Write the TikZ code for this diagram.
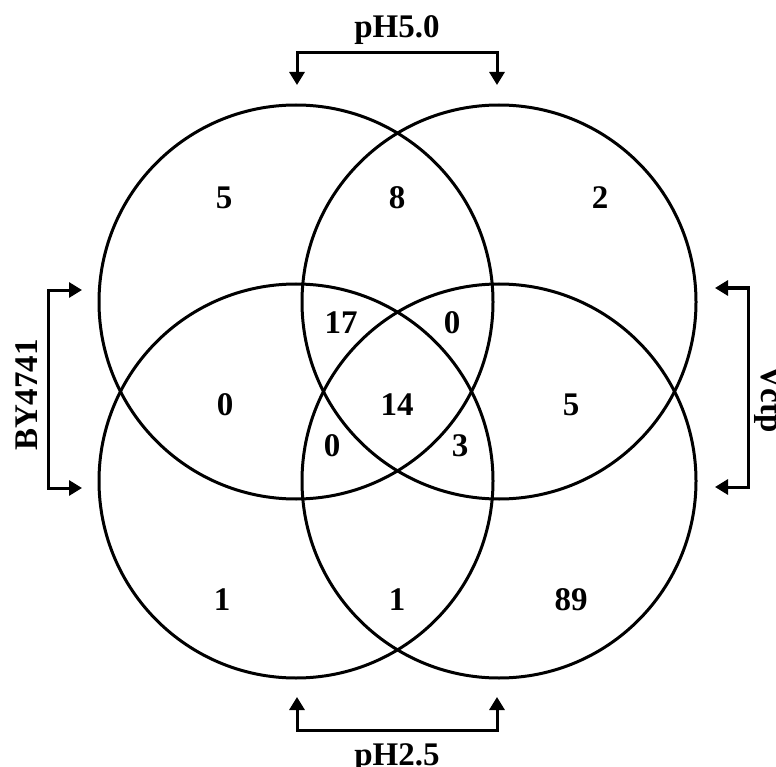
\documentclass[tikz,border=0pt]{standalone}
\usepackage{fontspec}
\setmainfont{Liberation Serif}
\usepackage{tikz}
\usetikzlibrary{arrows.meta}
\tikzset{>={Triangle[width=15pt,length=13pt]}}

\begin{document}
\begin{tikzpicture}[x=1pt,y=-1pt,line width=3pt,
  num/.style={font=\fontsize{33}{36}\selectfont\bfseries, inner sep=0pt},
  lab/.style={font=\fontsize{33}{36}\selectfont\bfseries, inner sep=0pt, anchor=base}]

  \useasboundingbox (0,0) rectangle (776,767);

  \newcommand\R{197pt};

  %% the four sets
  \draw (296,302) circle (\R); % top left
  \draw (499,302) circle (\R); % top right
  \draw (296,481) circle (\R); % bottom left
  \draw (499,481) circle (\R); % bottom right

  %% counts
  \node[num] (n5)  at (224,198) {5};
  \node[num] (n8)  at (397,198) {8};
  \node[num] (n2)  at (600,198) {2};
  \node[num] (n17) at (341,323) {17};
  \node[num] (n0a) at (452,323) {0};
  \node[num] (n0b) at (225,405) {0};
  \node[num] (n14) at (397,405) {14};
  \node[num] (n5b) at (571,405) {5};
  \node[num] (n0c) at (332,446) {0};
  \node[num] (n3)  at (460,446) {3};
  \node[num] (n1a) at (222,600) {1};
  \node[num] (n1b) at (397,600) {1};
  \node[num] (n89) at (571,600) {89};

  %% group labels
  \node[lab] (ph50) at (397,38) {pH5.0};
  \node[lab] (ph25) at (397,765) {pH2.5};
  \node[lab, rotate=90] (by) at (37,395) {BY4741};
  \node[lab, rotate=-90] (vc) at (761,399) {Vctp};

  %% bracket ends
  \coordinate (t5a) at (297,85);
  \coordinate (t5b) at (497,85);
  \coordinate (t2a) at (297,697);
  \coordinate (t2b) at (497,697);
  \coordinate (tba) at (82,290);
  \coordinate (tbb) at (82,488);
  \coordinate (tva) at (715,288);
  \coordinate (tvb) at (715,487);

  \draw[<->] (t5a) -- +(0,-32) -| (t5b); % pH5.0
  \draw[<->] (t2a) -- +(0,33) -| (t2b);  % pH2.5
  \draw[<->] (tba) -- +(-34,0) |- (tbb); % BY4741
  \draw[<->] (tva) -- +(33,0) |- (tvb);  % Vctp

\end{tikzpicture}
\end{document}
